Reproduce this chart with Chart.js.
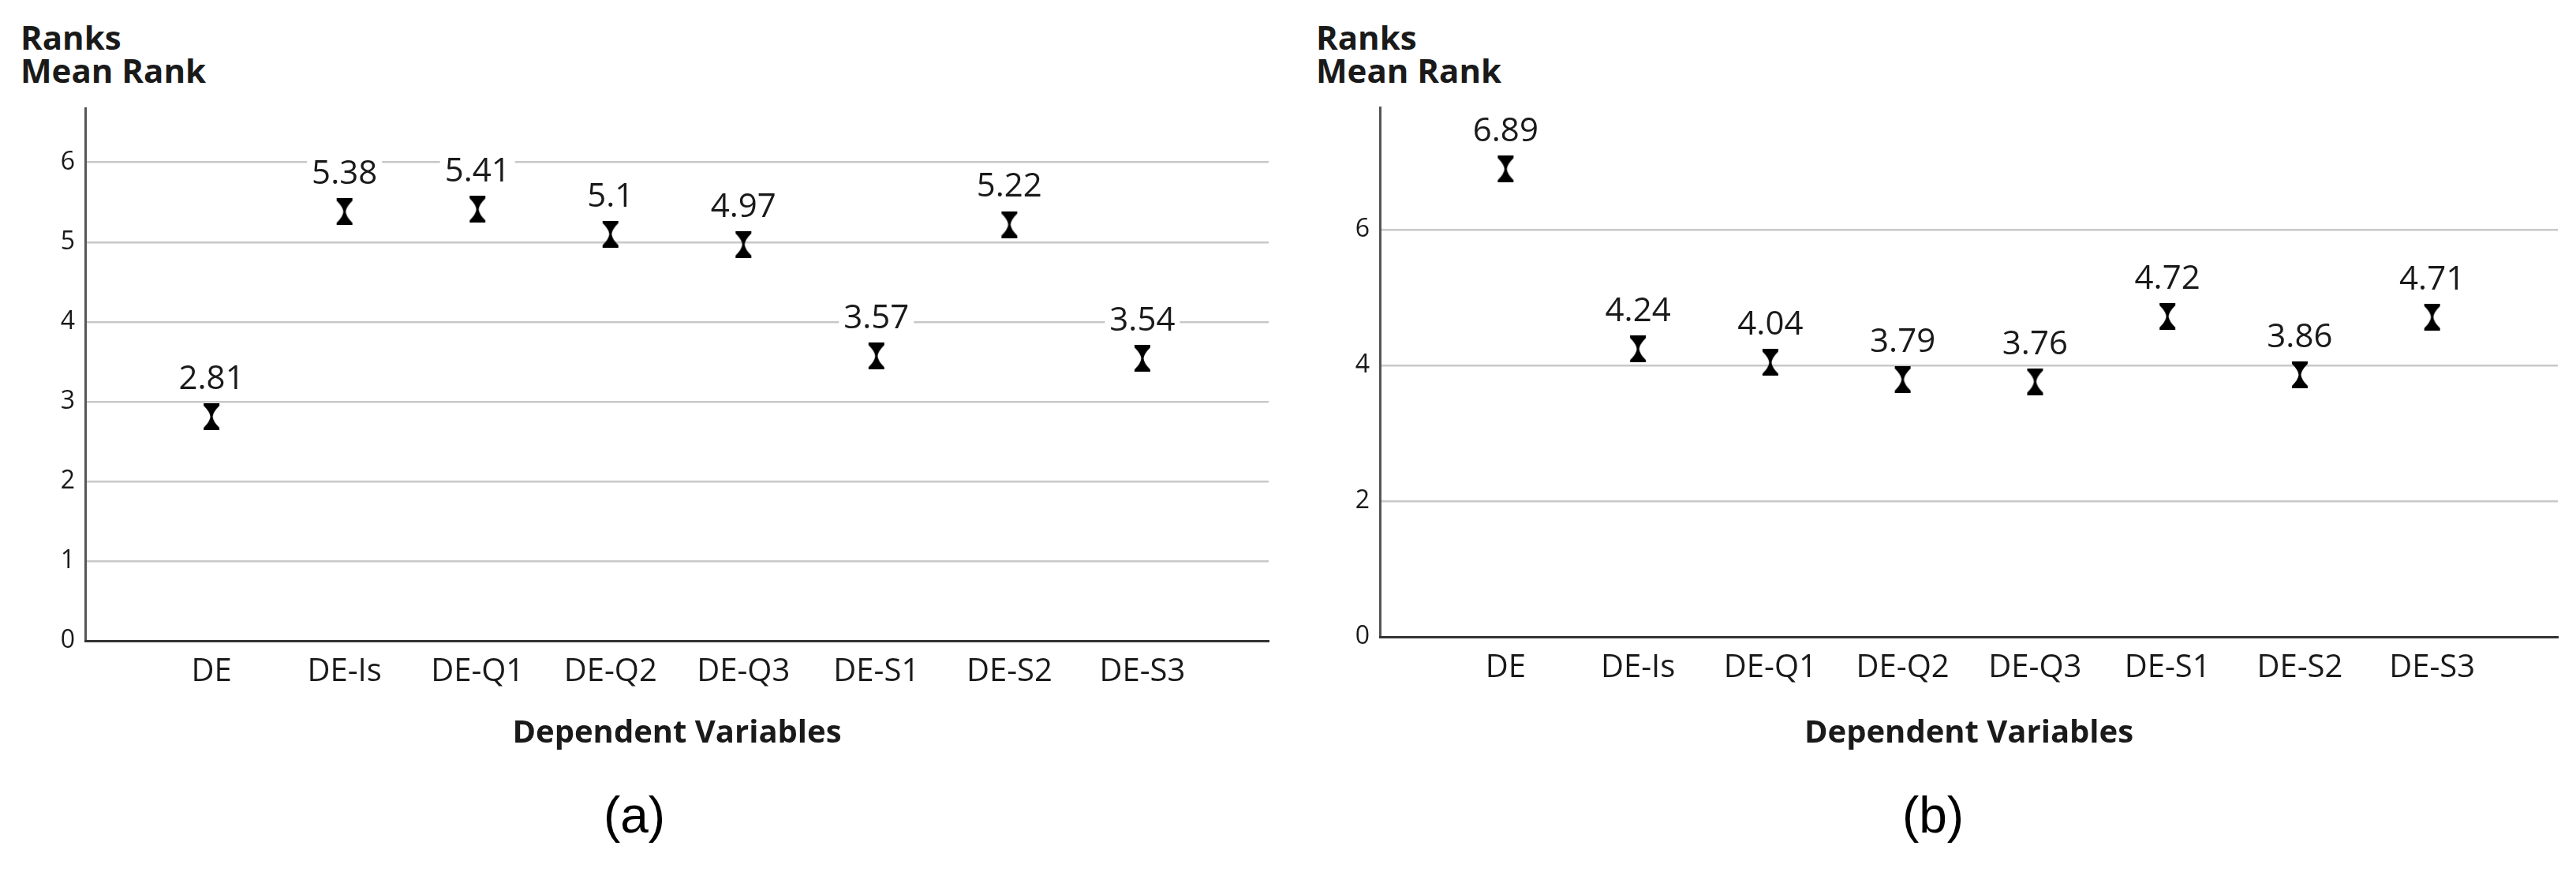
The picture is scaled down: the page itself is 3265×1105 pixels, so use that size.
<!DOCTYPE html>
<html>
<head>
<meta charset="utf-8">
<script src="https://cdn.jsdelivr.net/npm/chart.js@4.4.0/dist/chart.umd.min.js"></script>
<style>
  body { margin: 0; background: #fff; width: 3265px; height: 1105px; position: relative; overflow: hidden; font-family: 'Open Sans', sans-serif; color: #1a1a1a; }
  .box { position: absolute; top: 0; height: 1000px; }
  .head { position: absolute; top: 26px; font-weight: bold; font-size: 42px; line-height: 42px; }
  .tag { position: absolute; top: 1001px; font-family: 'Liberation Sans', Arial, sans-serif; font-size: 64px; line-height: 64px; width: 200px; text-align: center; color: #000; }
</style>
</head>
<body>
<div class="head" style="left:26px">Ranks<br>Mean Rank</div>
<div class="head" style="left:1668px">Ranks<br>Mean Rank</div>
<div class="box" style="left:0;width:1640px"><canvas id="chartA"></canvas></div>
<div class="box" style="left:1640px;width:1625px"><canvas id="chartB"></canvas></div>
<div class="tag" style="left:704px">(a)</div>
<div class="tag" style="left:2350px">(b)</div>
<script>
const categories = ['DE', 'DE-Is', 'DE-Q1', 'DE-Q2', 'DE-Q3', 'DE-S1', 'DE-S2', 'DE-S3'];
const meanRankA = [2.81, 5.38, 5.41, 5.1, 4.97, 3.57, 5.22, 3.54];
const meanRankB = [6.89, 4.24, 4.04, 3.79, 3.76, 4.72, 3.86, 4.71];
const yTicksA = [0, 1, 2, 3, 4, 5, 6];
const yTicksB = [0, 2, 4, 6];

Chart.defaults.font.family = "'Open Sans', sans-serif";
Chart.defaults.color = '#1a1a1a';

// hourglass marker like the SPSS mean rank symbol
function hourglass() {
    const c = document.createElement('canvas');
    c.width = 22;
    c.height = 34;
    const g = c.getContext('2d');
    g.fillStyle = '#000';
    g.beginPath();
    g.moveTo(1, 0); g.lineTo(21, 0); g.lineTo(21, 3);
    g.quadraticCurveTo(13, 11, 12.5, 17);
    g.quadraticCurveTo(13, 23, 21, 31);
    g.lineTo(21, 34); g.lineTo(1, 34); g.lineTo(1, 31);
    g.quadraticCurveTo(9, 23, 9.5, 17);
    g.quadraticCurveTo(9, 11, 1, 3);
    g.closePath();
    g.fill();
    return c;
}
const marker = hourglass();

const valueLabels = {
    id: 'valueLabels',
    afterDatasetsDraw(chart) {
        const ctx = chart.ctx;
        const meta = chart.getDatasetMeta(0);
        const pts = chart.data.datasets[0].data;
        ctx.save();
        ctx.font = "42px 'Open Sans', sans-serif";
        ctx.textAlign = 'center';
        ctx.textBaseline = 'middle';
        meta.data.forEach((el, i) => {
            const txt = String(pts[i].y);
            const w = ctx.measureText(txt).width;
            const y = el.y - 47;
            ctx.fillStyle = '#fff';
            ctx.fillRect(el.x - w / 2 - 6, y - 21, w + 12, 42);
            ctx.fillStyle = '#1a1a1a';
            ctx.fillText(txt, el.x, y);
        });
        ctx.restore();
    }
};

function makeChart(id, values, yTicks, yMax, axisWidth, xHeight, padRight, padTop) {
    const ctx = document.getElementById(id).getContext('2d');
    return new Chart(ctx, {
        type: 'scatter',
        data: {
            datasets: [{
                data: values.map((v, i) => ({ x: i + 1, y: v })),
                pointStyle: marker,
                pointRadius: 12,
                showLine: false
            }]
        },
        options: {
            responsive: true,
            maintainAspectRatio: false,
            animation: false,
            layout: { padding: { top: padTop, right: padRight, left: 0, bottom: 0 } },
            plugins: { legend: { display: false }, tooltip: { enabled: false } },
            scales: {
                x: {
                    type: 'linear',
                    min: 0.05,
                    max: 8.95,
                    afterBuildTicks: (scale) => { scale.ticks = categories.map((c, i) => ({ value: i + 1 })); },
                    afterFit: (scale) => { scale.height = xHeight; },
                    grid: { display: false, drawTicks: false },
                    border: { display: true, color: '#333', width: 3, z: 1 },
                    ticks: {
                        autoSkip: false,
                        maxRotation: 0,
                        padding: 16,
                        font: { size: 40 },
                        callback: (v) => categories[v - 1]
                    },
                    title: {
                        display: true,
                        text: 'Dependent Variables',
                        font: { size: 40, weight: 'bold' },
                        padding: { top: 0, bottom: 46 }
                    }
                },
                y: {
                    min: 0,
                    max: yMax,
                    afterBuildTicks: (scale) => { scale.ticks = yTicks.map(v => ({ value: v })); },
                    afterFit: (scale) => { scale.width = axisWidth; },
                    grid: {
                        drawTicks: false,
                        color: (c) => c.tick && c.tick.value === 0 ? 'rgba(0,0,0,0)' : '#c8c8c8',
                        lineWidth: 2.5
                    },
                    border: { display: true, color: '#555', width: 3 },
                    ticks: { padding: 13, font: { size: 32 } }
                }
            }
        },
        plugins: [valueLabels]
    });
}

makeChart('chartA', meanRankA, yTicksA, 6.68, 108, 188, 32, 137);
makeChart('chartB', meanRankB, yTicksB, 7.8, 109, 193, 23, 136);
</script>
</body>
</html>
